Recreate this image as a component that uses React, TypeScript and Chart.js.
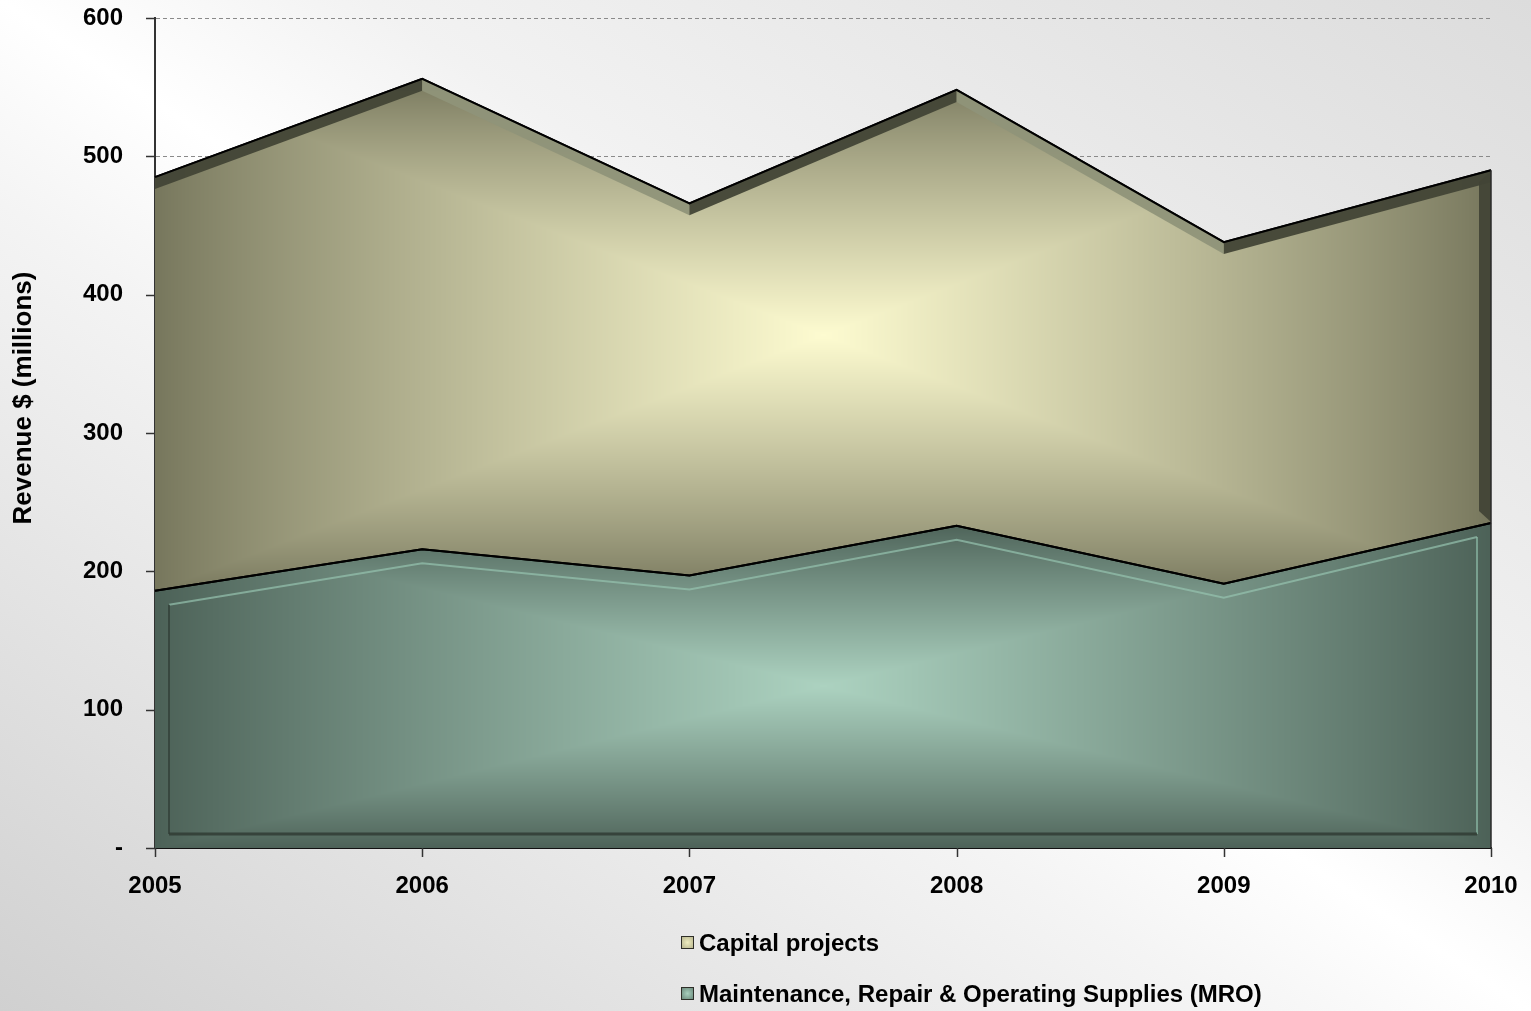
import React, { useEffect, useRef } from 'react';
import { Chart, registerables } from 'chart.js';
Chart.register(...registerables);

const years = ['2005', '2006', '2007', '2008', '2009', '2010'];
const mroValues = [186, 216, 197, 233, 191, 235];
const capitalValues = [299, 340, 269, 315, 247, 255];
const yMin = 0;
const yMax = 600;
const yStep = 100;
const seriesNames = ['Capital projects', 'Maintenance, Repair & Operating Supplies (MRO)'];
const yTitle = 'Revenue $ (millions)';

const FONT = '"Liberation Sans", Arial, Helvetica, sans-serif';

type RGB = [number, number, number];
const capEdge: RGB = [118, 118, 92];
const capCenter: RGB = [253, 251, 208];
const mroEdge: RGB = [76, 97, 87];
const mroCenter: RGB = [172, 210, 192];

function rectPattern(ctx: CanvasRenderingContext2D, w: number, h: number, x0: number, x1: number, y0: number, y1: number, edge: RGB, center: RGB, power: number) {
  const c = document.createElement('canvas');
  c.width = w;
  c.height = h;
  const g = c.getContext('2d')!;
  const img = g.createImageData(w, h);
  const d = img.data;
  const cx = (x0 + x1) / 2, cy = (y0 + y1) / 2, hw = (x1 - x0) / 2, hh = (y1 - y0) / 2;
  for (let y = 0; y < h; y++) {
    const ny = Math.abs(y - cy) / hh;
    for (let x = 0; x < w; x++) {
      const nx = Math.abs(x - cx) / hw;
      let t = 1 - Math.max(nx, ny);
      if (t < 0) t = 0;
      t = Math.pow(t, power);
      const i = (y * w + x) * 4;
      d[i] = edge[0] + (center[0] - edge[0]) * t;
      d[i + 1] = edge[1] + (center[1] - edge[1]) * t;
      d[i + 2] = edge[2] + (center[2] - edge[2]) * t;
      d[i + 3] = 255;
    }
  }
  g.putImageData(img, 0, 0);
  return ctx.createPattern(c, 'no-repeat');
}

const patternCache: Record<string, any> = {};

function getFill(chart: any, which: 'cap' | 'mro') {
  const area = chart.chartArea;
  const ys = chart.scales && chart.scales.y;
  if (!area || !ys) return which === 'cap' ? 'rgb(180,180,140)' : 'rgb(120,150,135)';
  const key = which + ':' + [area.left, area.right, area.top, area.bottom, chart.width, chart.height].join(',');
  if (patternCache[key]) return patternCache[key];
  const totals = mroValues.map((v, i) => v + capitalValues[i]);
  const base = ys.getPixelForValue(0);
  let pat;
  if (which === 'cap') {
    const top = Math.min(...totals.map((v) => ys.getPixelForValue(v)));
    const bottom = Math.max(...mroValues.map((v) => ys.getPixelForValue(v)));
    pat = rectPattern(chart.ctx, chart.width, chart.height, area.left, area.right, top, bottom, capEdge, capCenter, 0.85);
  } else {
    const top = Math.min(...mroValues.map((v) => ys.getPixelForValue(v)));
    pat = rectPattern(chart.ctx, chart.width, chart.height, area.left, area.right, top, base, mroEdge, mroCenter, 0.9);
  }
  patternCache[key] = pat;
  return pat;
}

const bevelPlugin = {
  id: 'bevel',
  afterDatasetsDraw(chart: any) {
    const ctx: CanvasRenderingContext2D = chart.ctx;
    const mro = chart.getDatasetMeta(0).data;
    const cap = chart.getDatasetMeta(1).data;
    const area = chart.chartArea;
    const base = chart.scales.y.getPixelForValue(0);
    const L = area.left, R = area.right;
    const b = 12;
    // capital projects bevel
    ctx.save();
    ctx.beginPath();
    cap.forEach((p: any, i: number) => (i ? ctx.lineTo(p.x, p.y) : ctx.moveTo(p.x, p.y)));
    for (let i = mro.length - 1; i >= 0; i--) ctx.lineTo(mro[i].x, mro[i].y);
    ctx.closePath();
    ctx.clip();
    for (let i = 0; i < cap.length - 1; i++) {
      const a = cap[i], c = cap[i + 1];
      ctx.fillStyle = c.y < a.y ? 'rgba(66,68,54,0.95)' : 'rgba(143,147,121,0.95)';
      ctx.beginPath();
      ctx.moveTo(a.x, a.y);
      ctx.lineTo(c.x, c.y);
      ctx.lineTo(c.x, c.y + b);
      ctx.lineTo(a.x, a.y + b);
      ctx.closePath();
      ctx.fill();
    }
    const lt = cap[cap.length - 1], lm = mro[mro.length - 1];
    ctx.fillStyle = 'rgba(66,68,54,0.95)';
    ctx.beginPath();
    ctx.moveTo(R + 1, lt.y);
    ctx.lineTo(R + 1, lm.y);
    ctx.lineTo(R - b, lm.y - b);
    ctx.lineTo(R - b, lt.y + b);
    ctx.closePath();
    ctx.fill();
    ctx.restore();

    // MRO frame
    const d = 14;
    const inner = mro.map((p: any) => ({ x: Math.min(Math.max(p.x, L + d), R - d), y: p.y + d }));
    ctx.save();
    ctx.lineCap = 'butt';
    ctx.strokeStyle = 'rgba(150,195,175,0.7)';
    ctx.lineWidth = 2;
    ctx.beginPath();
    inner.forEach((p: any, i: number) => (i ? ctx.lineTo(p.x, p.y) : ctx.moveTo(p.x, p.y)));
    ctx.stroke();
    ctx.strokeStyle = 'rgba(140,185,165,0.7)';
    ctx.beginPath();
    ctx.moveTo(R - d, inner[inner.length - 1].y);
    ctx.lineTo(R - d, base - d);
    ctx.stroke();
    ctx.strokeStyle = 'rgba(50,64,56,0.8)';
    ctx.lineWidth = 2;
    ctx.beginPath();
    ctx.moveTo(L + d, inner[0].y);
    ctx.lineTo(L + d, base - d);
    ctx.stroke();
    ctx.strokeStyle = 'rgba(48,60,52,0.85)';
    ctx.lineWidth = 3;
    ctx.beginPath();
    ctx.moveTo(L + d, base - d);
    ctx.lineTo(R - d, base - d);
    ctx.stroke();
    ctx.restore();

    // outline lines on top
    ctx.save();
    ctx.strokeStyle = '#000';
    ctx.lineWidth = 2;
    ctx.lineJoin = 'miter';
    ctx.beginPath();
    mro.forEach((p: any, i: number) => (i ? ctx.lineTo(p.x, p.y) : ctx.moveTo(p.x, p.y)));
    ctx.stroke();
    ctx.beginPath();
    cap.forEach((p: any, i: number) => (i ? ctx.lineTo(p.x, p.y) : ctx.moveTo(p.x, p.y)));
    ctx.stroke();
    ctx.strokeStyle = '#2a2a2a';
    ctx.lineWidth = 1.5;
    ctx.beginPath();
    ctx.moveTo(R, lt.y);
    ctx.lineTo(R, base);
    ctx.stroke();
    ctx.restore();
  },
};

const axisExtrasPlugin = {
  id: 'axisExtras',
  afterDraw(chart: any) {
    const ctx: CanvasRenderingContext2D = chart.ctx;
    const ys = chart.scales.y;
    const xs = chart.scales.x;
    const L = chart.chartArea.left;
    const B = chart.chartArea.bottom;
    ctx.save();
    ctx.strokeStyle = '#333';
    ctx.lineWidth = 1.5;
    ys.ticks.forEach((t: any) => {
      const y = Math.round(ys.getPixelForValue(t.value)) + 0.5;
      ctx.beginPath();
      ctx.moveTo(L - 9, y);
      ctx.lineTo(L, y);
      ctx.stroke();
    });
    xs.ticks.forEach((_t: any, i: number) => {
      const x = Math.round(xs.getPixelForTick(i)) + 0.5;
      ctx.beginPath();
      ctx.moveTo(x, B);
      ctx.lineTo(x, B + 9);
      ctx.stroke();
    });
    ctx.restore();

    ctx.save();
    ctx.translate(24, 398);
    ctx.rotate(-Math.PI / 2);
    ctx.font = `bold 26px ${FONT}`;
    ctx.fillStyle = '#000';
    ctx.textAlign = 'center';
    ctx.textBaseline = 'middle';
    ctx.fillText(yTitle, 0, 0);
    ctx.restore();
  },
};

function ChartCanvas() {
  const ref = useRef<HTMLCanvasElement | null>(null);
  useEffect(() => {
    if (!ref.current) return;
    const chart = new Chart(ref.current, {
      type: 'line',
      data: {
        labels: years,
        datasets: [
          {
            label: seriesNames[1],
            data: mroValues,
            fill: 'origin',
            backgroundColor: (c: any) => getFill(c.chart, 'mro'),
            borderColor: '#000',
            borderWidth: 2,
            pointRadius: 0,
            tension: 0,
          },
          {
            label: seriesNames[0],
            data: capitalValues,
            fill: '-1',
            backgroundColor: (c: any) => getFill(c.chart, 'cap'),
            borderColor: '#000',
            borderWidth: 2,
            pointRadius: 0,
            tension: 0,
          },
        ],
      },
      options: {
        animation: false,
        responsive: false,
        maintainAspectRatio: false,
        layout: { padding: { top: 18, right: 40, left: 0, bottom: 0 } },
        plugins: { legend: { display: false }, tooltip: { enabled: false } },
        scales: {
          x: {
            offset: false,
            grid: { drawOnChartArea: false, drawTicks: true, tickLength: 24, tickColor: 'rgba(0,0,0,0)', tickWidth: 1 },
            border: { display: true, color: '#111', width: 2 },
            ticks: { color: '#000', font: { family: FONT, size: 24, weight: 'bold' }, padding: 0, maxRotation: 0 },
            afterFit: (s: any) => { s.height = 163; },
          },
          y: {
            stacked: true,
            min: yMin,
            max: yMax,
            grid: { color: '#8a8a8a', lineWidth: 1, tickLength: 32, tickColor: 'rgba(0,0,0,0)', tickWidth: 1, tickBorderDash: [] },
            border: { display: true, color: '#333', width: 2, dash: [4, 3] },
            ticks: {
              stepSize: yStep,
              color: '#000',
              font: { family: FONT, size: 24, weight: 'bold' },
              padding: 0,
              callback: (v: any) => (Number(v) === 0 ? '-' : String(v)),
            },
            afterFit: (s: any) => { s.width = 155; },
          },
        },
      },
      plugins: [bevelPlugin, axisExtrasPlugin],
    } as any);
    return () => chart.destroy();
  }, []);
  return <canvas ref={ref} width={1531} height={1011} style={{ position: 'absolute', left: 0, top: 0, width: 1531, height: 1011 }} />;
}

const legendText: React.CSSProperties = {
  position: 'absolute',
  fontFamily: FONT,
  fontWeight: 'bold',
  fontSize: 24,
  lineHeight: '28px',
  color: '#000',
  whiteSpace: 'nowrap',
  letterSpacing: '0px',
};

function LegendBox({ top, fill }: { top: number; fill: string }) {
  return (
    <div
      style={{
        position: 'absolute',
        left: 681,
        top,
        width: 11,
        height: 11,
        border: '1.5px solid #2e2e28',
        background: fill,
      }}
    />
  );
}

export default function App() {
  return (
    <div
      style={{
        position: 'fixed',
        left: 0,
        top: 0,
        width: 1531,
        height: 1011,
        overflow: 'hidden',
        background: 'linear-gradient(to top right, #d0d0d0 0%, #f4f4f4 40%, #ffffff 50%, #f2f2f2 62%, #dcdcdc 100%)',
      }}
    >
      <ChartCanvas />
      <LegendBox top={936} fill="radial-gradient(circle, #efedc0 0%, #b8b68f 100%)" />
      <div style={{ ...legendText, left: 699, top: 929 }}>{seriesNames[0]}</div>
      <LegendBox top={987} fill="radial-gradient(circle, #a8cfbd 0%, #6c8a7c 100%)" />
      <div style={{ ...legendText, left: 699, top: 980 }}>{seriesNames[1]}</div>
    </div>
  );
}
